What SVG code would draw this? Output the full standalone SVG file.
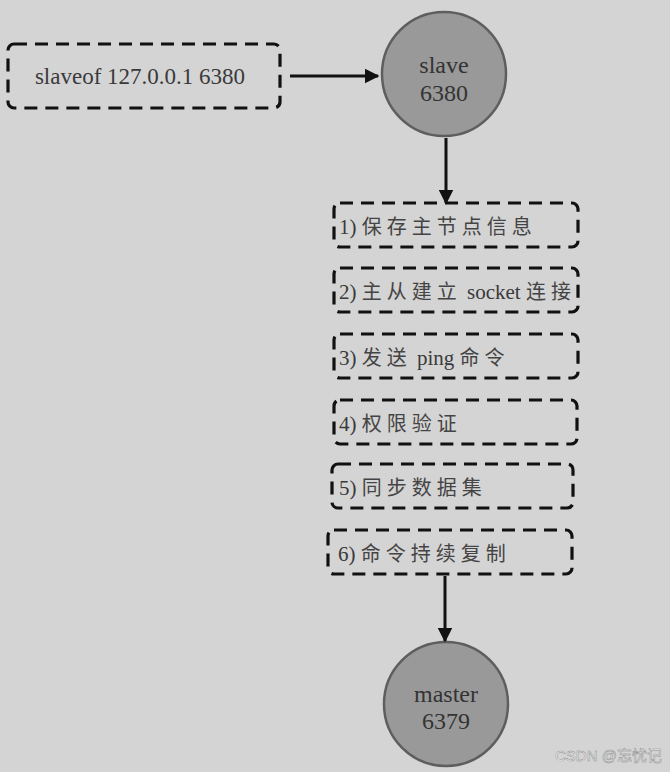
<svg xmlns="http://www.w3.org/2000/svg" width="670" height="772" viewBox="0 0 670 772">
<defs>
<marker id="ah" viewBox="0 0 10 10" refX="9" refY="5" markerWidth="5" markerHeight="5" orient="auto" markerUnits="strokeWidth">
<path d="M0,0 L10,5 L0,10 Z" fill="#111"/>
</marker>
<style>
.box{fill:none;stroke:#111;stroke-width:3.2;stroke-dasharray:13 8;}
.circ{fill:#999;stroke:#5e5e5e;stroke-width:2.5;}
.t{font-family:"Liberation Serif","Noto Sans CJK SC",serif;font-size:21px;fill:#3a3a3a;}
.cj{letter-spacing:5px;font-size:20px;fill:#444;}
.ct{font-family:"Liberation Serif",serif;font-size:24px;fill:#333;text-anchor:middle;}
.edge{stroke:#111;stroke-width:3;fill:none;marker-end:url(#ah);}
</style>
</defs>
<rect width="670" height="772" fill="#d4d4d4"/>
<g id="cmd">
<rect class="box" x="8" y="44" width="272" height="64" rx="6"/>
<text class="t" x="140" y="84" text-anchor="middle" font-size="23" style="font-size:23px">slaveof 127.0.0.1 6380</text>
</g>
<g id="slave">
<circle class="circ" cx="444" cy="74" r="62"/>
<text class="ct" x="444" y="73">slave</text>
<text class="ct" x="444" y="101">6380</text>
</g>
<g id="step1">
<rect class="box" x="334" y="203" width="244" height="44" rx="6"/>
<text class="t" x="339" y="234">1) <tspan class="cj">保存主节点信息</tspan></text>
</g>
<g id="step2">
<rect class="box" x="334" y="268" width="244" height="44" rx="6"/>
<text class="t" x="339" y="299">2) <tspan class="cj">主从建立</tspan> socket <tspan class="cj">连接</tspan></text>
</g>
<g id="step3">
<rect class="box" x="334" y="334" width="244" height="44" rx="6"/>
<text class="t" x="339" y="365">3) <tspan class="cj">发送</tspan> ping <tspan class="cj">命令</tspan></text>
</g>
<g id="step4">
<rect class="box" x="334" y="400" width="243" height="44" rx="6"/>
<text class="t" x="339" y="431">4) <tspan class="cj">权限验证</tspan></text>
</g>
<g id="step5">
<rect class="box" x="332" y="464" width="241" height="44" rx="6"/>
<text class="t" x="339" y="495">5) <tspan class="cj">同步数据集</tspan></text>
</g>
<g id="step6">
<rect class="box" x="328" y="530" width="244" height="44" rx="6"/>
<text class="t" x="338" y="561">6) <tspan class="cj">命令持续复制</tspan></text>
</g>
<g id="master">
<circle class="circ" cx="446" cy="704" r="62"/>
<text class="ct" x="446" y="702">master</text>
<text class="ct" x="446" y="729">6379</text>
</g>
<g id="connectors">
<line class="edge" x1="290" y1="76" x2="378" y2="76"/>
<line class="edge" x1="446" y1="138" x2="446" y2="203"/>
<line class="edge" x1="445" y1="576" x2="445" y2="641"/>
</g>
<text x="555" y="761" font-family="'Liberation Sans','Noto Sans CJK SC',sans-serif" font-size="15" fill="#fafafa" stroke="#8a8a8a" stroke-width="0.5">CSDN @忘忧记</text>
</svg>
